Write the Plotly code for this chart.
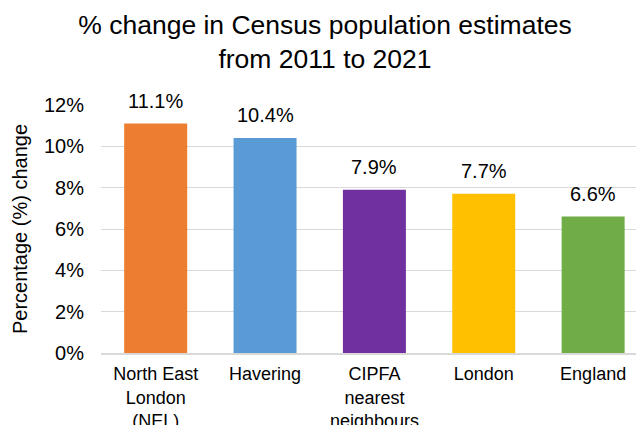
import plotly.graph_objects as go

categories = ["North East<br>London<br>(NEL)", "Havering", "CIPFA<br>nearest<br>neighbours", "London", "England"]
values = [0.111, 0.104, 0.079, 0.077, 0.066]
labels = ["11.1%", "10.4%", "7.9%", "7.7%", "6.6%"]
colors = ["#ED7D31", "#5B9BD5", "#7030A0", "#FFC000", "#70AD47"]
tick_vals = [0, 0.02, 0.04, 0.06, 0.08, 0.10, 0.12]
tick_text = ["0%", "2%", "4%", "6%", "8%", "10%", "12%"]

FONT = "Liberation Sans, Arial, sans-serif"

fig = go.Figure()
fig.add_trace(go.Bar(
    x=categories, y=values, marker=dict(color=colors, line=dict(width=0)),
    hoverinfo="skip", showlegend=False,
))

for c, v, t in zip(categories, values, labels):
    fig.add_annotation(x=c, y=v, text=t, showarrow=False, yanchor="bottom",
                       yshift=10, font=dict(family=FONT, size=20, color="#000"))

fig.update_layout(
    width=636, height=425,
    margin=dict(l=101, r=0, t=105, b=72, autoexpand=False),
    paper_bgcolor="white", plot_bgcolor="white",
    bargap=0.424,
    title=dict(text="% change in Census population estimates<br>from 2011 to 2021",
               x=325/636, xref="container", xanchor="center",
               y=1-34/425, yref="container", yanchor="top",
               font=dict(family=FONT, size=26.5, color="#000")),
    xaxis=dict(range=[-0.5, 4.392], showgrid=False, showline=True,
               linecolor="#D9D9D9", linewidth=1.5, ticks="",
               tickfont=dict(family=FONT, size=18, color="#000"),
               ticklabelstandoff=4, fixedrange=True),
    yaxis=dict(range=[0, 0.12], tickvals=tick_vals, ticktext=tick_text,
               showgrid=True, gridcolor="#D9D9D9", gridwidth=1,
               zeroline=False, showline=False, ticks="",
               tickfont=dict(family=FONT, size=20, color="#000"),
               ticklabelstandoff=16,
               title=dict(text="Percentage (%) change", standoff=10,
                          font=dict(family=FONT, size=20, color="#000")),
               fixedrange=True),
)

fig.write_html("out.html", config={"displayModeBar": False},
               post_script="document.body.style.margin='0';document.body.style.overflow='hidden';")
